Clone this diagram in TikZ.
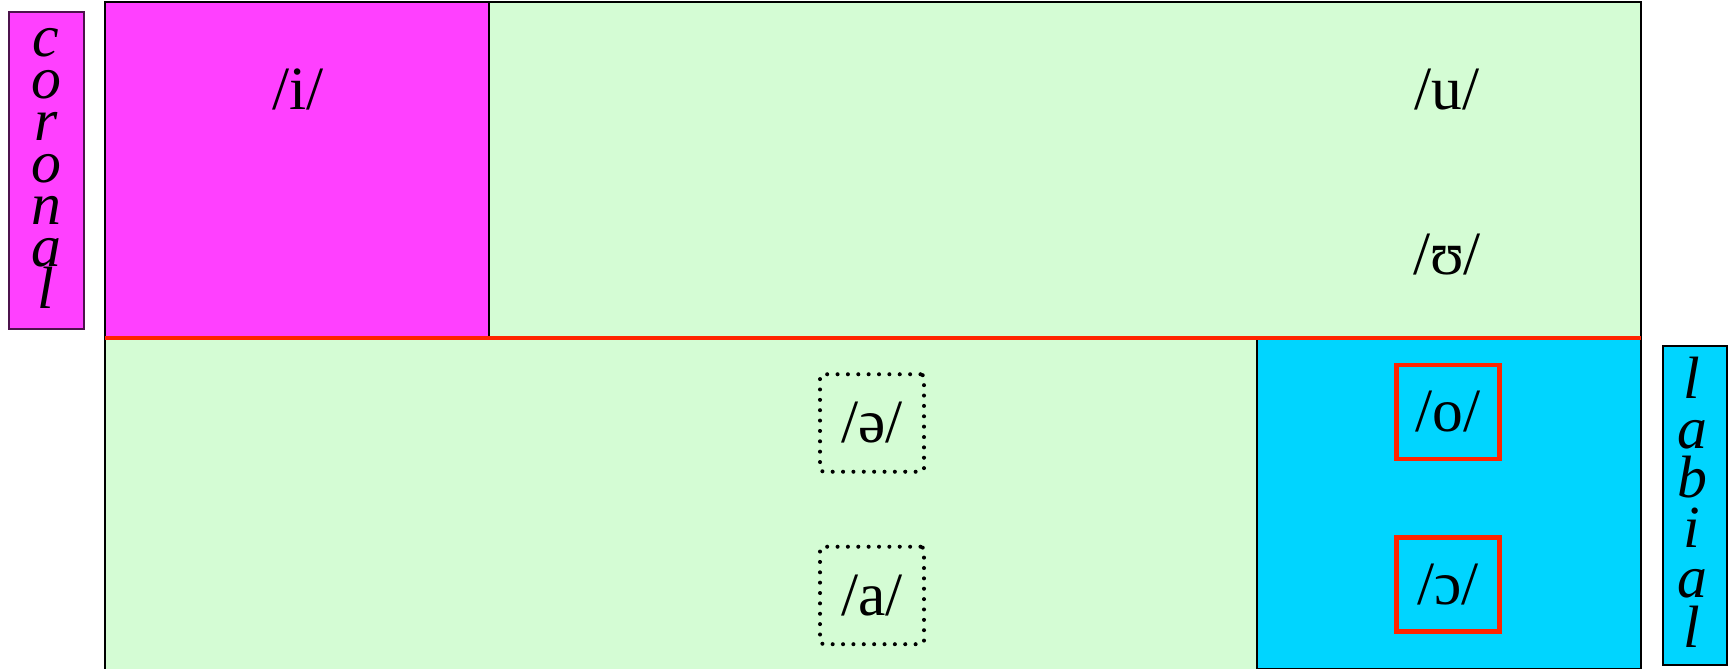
\documentclass[tikz,border=0pt]{standalone}
\usepackage{fontspec}
\setmainfont{Liberation Serif}
\definecolor{coronalpink}{RGB}{255,64,255}
\definecolor{vowelgreen}{RGB}{212,252,212}
\definecolor{labialblue}{RGB}{0,213,255}
\definecolor{heightred}{RGB}{255,36,0}
\newcommand{\featureFont}[1]{\fontsize{34}{#1}\selectfont\itshape\lineskiplimit=-100pt\relax}
\begin{document}
\begin{tikzpicture}[x=0.02cm, y=-0.02cm, node distance=3.45cm, semithick]
        \tikzset{
           vowel/.style={
                        font=\fontsize{35}{40}\selectfont,
                        text=black,
                        inner sep=0pt
                       },
           markedVowel/.style={
                        vowel,
                        rectangle,
                        draw=heightred,
                        line width=2.8pt,
                        minimum width=2.06cm,
                        minimum height=1.88cm
                       },
           neutralVowel/.style={
                        vowel,
                        rectangle,
                        rounded corners=2pt,
                        draw=black,
                        line width=2.3pt,
                        line cap=round,
                        dash pattern=on 0pt off 5.9pt,
                        minimum width=2.08cm,
                        minimum height=1.95cm
                       },
           feature/.style={
                        align=center,
                        inner sep=0pt,
                        anchor=base,
                        text=black
                       },
                 };
        \useasboundingbox (0,0) rectangle (1728,669);
    %--------------------
        % vowel space and its regions
        \fill[vowelgreen] (105,2) rectangle (1641,669);
        \filldraw[fill=coronalpink, draw=black] (105,2) rectangle (489,338);
        \filldraw[fill=labialblue, draw=black] (1257,338) rectangle (1641,669);
        \draw[line width=1.1pt] (105,669) -- (105,2) -- (1641,2) -- (1641,669);
        \draw[heightred, line width=2.8pt] (105,338) -- (1641,338);

        % feature tags at the sides
        \filldraw[fill=coronalpink, draw=black!70!coronalpink] (9,12) rectangle (84,329);
        \filldraw[fill=labialblue, draw=black] (1663,346) rectangle (1727,665);
    %--------------------
        % base sits on the last line of the stacked letters
        \node[feature, font=\featureFont{23.9}] (coronal) at (46,308)   {c\\o\\r\\o\\n\\a\\l};
        \node[feature, font=\featureFont{28.3}] (labial)  at (1692,647) {l\\a\\b\\i\\a\\l};

        \node[vowel]        (i)     at (298,89)           {/i/};
        \node[vowel]        (u)     at (1447,90)          {/u/};
        \node[vowel]        (upsilon) [below of=u, node distance=3.3cm] {/ʊ/};

        \node[neutralVowel] (schwa) at (872,423)          {/ə/};
        \node[neutralVowel] (a)     [below of=schwa]      {/a/};

        \node[markedVowel]  (o)     at (1448,412)         {/o/};
        \node[markedVowel]  (openo) [below of=o]          {/ɔ/};
    \end{tikzpicture}
\end{document}
